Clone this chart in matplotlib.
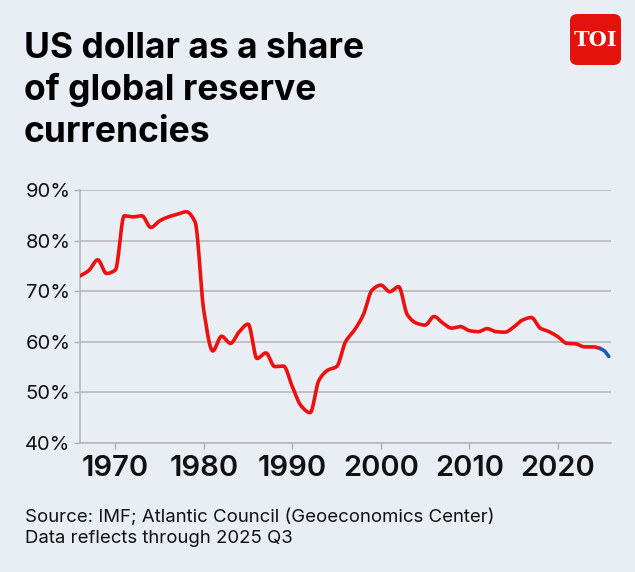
import numpy as np
import matplotlib.pyplot as plt
from matplotlib.patches import FancyBboxPatch

# Values (share of USD in global reserves, %)
years = [1966, 1967, 1968, 1969, 1970, 1971, 1972, 1973, 1974, 1975,
         1976, 1977, 1978, 1979, 1980, 1981, 1982, 1983, 1984, 1985,
         1986, 1987, 1988, 1989, 1990, 1991, 1992, 1993, 1994, 1995,
         1996, 1997, 1998, 1999, 2000, 2001, 2002, 2003, 2004, 2005,
         2006, 2007, 2008, 2009, 2010, 2011, 2012, 2013, 2014, 2015,
         2016, 2017, 2018, 2019, 2020, 2021, 2022, 2023, 2024, 2024.75]
share = [73.0, 74.1, 76.2, 73.5, 74.2, 84.9, 84.7, 84.9, 82.6, 83.9,
         84.7, 85.2, 85.7, 83.7, 66.0, 58.2, 61.1, 59.7, 62.0, 63.5,
         56.7, 57.8, 55.1, 55.2, 51.1, 47.3, 46.0, 52.4, 54.4, 55.1,
         60.0, 62.3, 65.3, 70.2, 71.2, 69.9, 70.9, 65.3, 63.7, 63.3,
         65.0, 63.7, 62.7, 63.0, 62.2, 62.0, 62.6, 62.0, 61.9, 62.9,
         64.3, 64.8, 62.7, 62.0, 61.0, 59.7, 59.6, 59.0, 59.0, 58.7]
# latest quarters (highlighted in blue)
latest_years = [2024.75, 2025.25, 2025.75]
latest_share = [58.7, 58.2, 57.1]

yticks = [40, 50, 60, 70, 80, 90]
xticks = [1970, 1980, 1990, 2000, 2010, 2020]

BG = '#e8eef4'
RED = '#ee0f0f'
BLUE = '#1a5fb0'


def monotone_curve(x, y, n=20):
    """Monotone cubic (Fritsch-Carlson) interpolation, like a 'curved' line."""
    x = np.asarray(x, float)
    y = np.asarray(y, float)
    h = np.diff(x)
    d = np.diff(y) / h
    m = np.zeros_like(y)
    m[0], m[-1] = d[0], d[-1]
    for i in range(1, len(y) - 1):
        if d[i - 1] * d[i] > 0:
            w1 = 2 * h[i] + h[i - 1]
            w2 = h[i] + 2 * h[i - 1]
            m[i] = (w1 + w2) / (w1 / d[i - 1] + w2 / d[i])
    xs, ys = [], []
    for i in range(len(x) - 1):
        t = np.linspace(0, 1, n, endpoint=(i == len(x) - 2))
        h00 = 2 * t**3 - 3 * t**2 + 1
        h10 = t**3 - 2 * t**2 + t
        h01 = -2 * t**3 + 3 * t**2
        h11 = t**3 - t**2
        xs.append(x[i] + t * h[i])
        ys.append(h00 * y[i] + h10 * h[i] * m[i] + h01 * y[i + 1] + h11 * h[i] * m[i + 1])
    return np.concatenate(xs), np.concatenate(ys)


plt.rcParams['font.family'] = ['Inter', 'DejaVu Sans']

fig = plt.figure(figsize=(6.35, 5.72), dpi=100, facecolor=BG)
ax = fig.add_axes([80 / 635, 1 - 443 / 572, 531 / 635, 253 / 572])
ax.set_facecolor(BG)

xr, yr = monotone_curve(years, share)
xb, yb = monotone_curve(latest_years, latest_share)
ax.plot(xr, yr, color=RED, lw=2.6, solid_capstyle='round', zorder=3)
ax.plot(xb, yb, color=BLUE, lw=2.6, solid_capstyle='round', zorder=3)

ax.set_xlim(1966, 2026)
ax.set_ylim(40, 90)
ax.set_yticks(yticks)
ax.set_yticklabels([f'{v}%' for v in yticks], fontsize=14.5, color='#111111')
ax.set_xticks(xticks)
ax.set_xticklabels([str(v) for v in xticks], fontsize=21, fontweight='semibold', color='#111111')
ax.tick_params(axis='y', length=4, width=1, color='#b0b0b0', pad=3)
ax.tick_params(axis='x', length=4, width=1, color='#b0b0b0', pad=5)
ax.grid(axis='y', color='#b4b4b4', lw=1.1)
for side in ['top', 'right']:
    ax.spines[side].set_visible(False)
for side in ['left', 'bottom']:
    ax.spines[side].set_color('#b4b4b4')
    ax.spines[side].set_linewidth(1.1)

title_lines = ['US dollar as a share', 'of global reserve', 'currencies']
for i, line in enumerate(title_lines):
    fig.text(24 / 635, 1 - (58 + 42 * i) / 572, line, fontsize=25.5, fontweight='bold',
             color='#000000', va='baseline', ha='left')

fig.text(25 / 635, 1 - 522 / 572, 'Source: IMF; Atlantic Council (Geoeconomics Center)',
         fontsize=13.4, color='#111111', va='baseline')
fig.text(25 / 635, 1 - 543 / 572, 'Data reflects through 2025 Q3',
         fontsize=13.4, color='#111111', va='baseline')

# TOI badge
badge = FancyBboxPatch((570 / 635, 1 - 65 / 572), 51 / 635, 51 / 572,
                       boxstyle='round,pad=0,rounding_size=0.012',
                       transform=fig.transFigure, facecolor='#e3120b', edgecolor='none')
fig.patches.append(badge)
fig.text(595.5 / 635, 1 - 40 / 572, 'TOI', fontsize=15, fontweight='bold',
         family='DejaVu Serif', color='white', ha='center', va='center')

fig.savefig('out.png', dpi=100, facecolor=BG)
